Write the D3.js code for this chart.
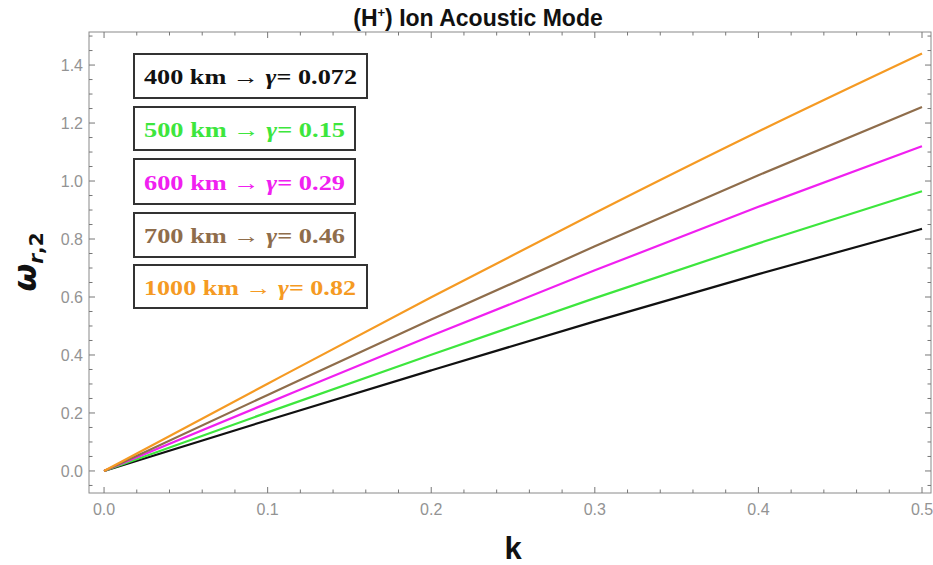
<!DOCTYPE html>
<html>
<head>
<meta charset="utf-8">
<script src="https://cdn.jsdelivr.net/npm/d3@7"></script>
<style>
  body { margin: 0; background: #fff; }
  svg { display: block; }
</style>
</head>
<body>
<div id="chart"></div>
<script>
// donnees
const kValues = [0, 0.1, 0.2, 0.3, 0.4, 0.5];
const omega400 = [0, 0.175, 0.347, 0.516, 0.679, 0.835];
const omega500 = [0, 0.202, 0.401, 0.596, 0.785, 0.965];
const omega600 = [0, 0.234, 0.466, 0.692, 0.911, 1.12];
const omega700 = [0, 0.262, 0.522, 0.775, 1.020, 1.255];
const omega1000 = [0, 0.301, 0.599, 0.890, 1.171, 1.44];

const altitudes = ['400', '500', '600', '700', '1000'];
const gammas = ['0.072', '0.15', '0.29', '0.46', '0.82'];
const colors = ['#111111', '#3de63d', '#f020f0', '#8f6d4b', '#f59a23'];

const xTicks = [0, 0.1, 0.2, 0.3, 0.4, 0.5];
const yTicks = [0, 0.2, 0.4, 0.6, 0.8, 1.0, 1.2, 1.4];

const seriesValues = [omega400, omega500, omega600, omega700, omega1000];

const W = 933, H = 565;
const frame = { left: 89, top: 32, right: 931, bottom: 493 };

const svg = d3.select('#chart').append('svg')
    .attr('width', W)
    .attr('height', H);

const x = d3.scaleLinear()
    .domain([-0.0092, 0.5055])
    .range([frame.left, frame.right]);

const y = d3.scaleLinear()
    .domain([-0.076, 1.514])
    .range([frame.bottom, frame.top]);

// Cadre
svg.append('rect')
    .attr('x', frame.left)
    .attr('y', frame.top)
    .attr('width', frame.right - frame.left)
    .attr('height', frame.bottom - frame.top)
    .attr('fill', 'none')
    .attr('stroke', '#8a8a8a')
    .attr('stroke-width', 1);

// Graduations (vers l'interieur, facon Mathematica)
const xMinor = d3.range(0, 0.501, 0.02).filter(v => Math.abs(v * 10 - Math.round(v * 10)) > 1e-6);
const yMinor = d3.range(-0.05, 1.51, 0.05).filter(v => Math.abs(v * 5 - Math.round(v * 5)) > 1e-6);

const ticks = svg.append('g').attr('stroke', '#777').attr('stroke-width', 1);
xTicks.forEach(v => {
    ticks.append('line').attr('x1', x(v)).attr('x2', x(v)).attr('y1', frame.bottom).attr('y2', frame.bottom - 6);
    ticks.append('line').attr('x1', x(v)).attr('x2', x(v)).attr('y1', frame.top).attr('y2', frame.top + 6);
});
xMinor.forEach(v => {
    ticks.append('line').attr('x1', x(v)).attr('x2', x(v)).attr('y1', frame.bottom).attr('y2', frame.bottom - 3.5);
    ticks.append('line').attr('x1', x(v)).attr('x2', x(v)).attr('y1', frame.top).attr('y2', frame.top + 3.5);
});
yTicks.forEach(v => {
    ticks.append('line').attr('x1', frame.left).attr('x2', frame.left + 6).attr('y1', y(v)).attr('y2', y(v));
    ticks.append('line').attr('x1', frame.right).attr('x2', frame.right - 6).attr('y1', y(v)).attr('y2', y(v));
});
yMinor.forEach(v => {
    ticks.append('line').attr('x1', frame.left).attr('x2', frame.left + 3.5).attr('y1', y(v)).attr('y2', y(v));
    ticks.append('line').attr('x1', frame.right).attr('x2', frame.right - 3.5).attr('y1', y(v)).attr('y2', y(v));
});

// Etiquettes des axes
svg.append('g').selectAll('text')
    .data(xTicks)
    .join('text')
    .attr('x', d => x(d))
    .attr('y', frame.bottom + 22)
    .attr('text-anchor', 'middle')
    .style('font-family', 'Liberation Sans, Arial, sans-serif')
    .style('font-size', '16px')
    .style('fill', '#939393')
    .text(d => d.toFixed(1));

svg.append('g').selectAll('text')
    .data(yTicks)
    .join('text')
    .attr('x', frame.left - 6)
    .attr('y', d => y(d) + 6)
    .attr('text-anchor', 'end')
    .style('font-family', 'Liberation Sans, Arial, sans-serif')
    .style('font-size', '16px')
    .style('fill', '#939393')
    .text(d => d.toFixed(1));

// Courbes
const line = d3.line()
    .x((d, i) => x(kValues[i]))
    .y(d => y(d))
    .curve(d3.curveMonotoneX);

svg.append('g').selectAll('path')
    .data(seriesValues)
    .join('path')
    .attr('d', d => line(d))
    .attr('fill', 'none')
    .attr('stroke', (d, i) => colors[i])
    .attr('stroke-width', 2.2);

// Titre
svg.append('text')
    .attr('x', 478)
    .attr('y', 26)
    .attr('text-anchor', 'middle')
    .style('font-family', 'Liberation Sans, Arial, sans-serif')
    .style('font-size', '23px')
    .style('font-weight', '700')
    .style('fill', '#111')
    .html('(H<tspan dy="-9" font-size="13px">+</tspan><tspan dy="9">) Ion Acoustic Mode</tspan>');

// Titre axe x
svg.append('text')
    .attr('x', 513)
    .attr('y', 559)
    .attr('text-anchor', 'middle')
    .style('font-family', 'Liberation Sans, Arial, sans-serif')
    .style('font-size', '31px')
    .style('font-weight', '700')
    .style('fill', '#111')
    .text('k');

// Titre axe y
svg.append('text')
    .attr('transform', 'translate(36, 262) rotate(-90)')
    .attr('text-anchor', 'middle')
    .style('font-family', 'DejaVu Sans, sans-serif')
    .style('font-weight', '700')
    .style('fill', '#111')
    .html('<tspan font-size="32px" font-style="italic">ω</tspan><tspan font-size="20px" dy="7" font-style="italic">r</tspan><tspan font-size="20px">,2</tspan>');

// Legende en boites
const boxes = [
    { y0: 54, y1: 98, x1: 367, len: 213 },
    { y0: 107, y1: 150, x1: 355, len: 201 },
    { y0: 159, y1: 204, x1: 355, len: 201 },
    { y0: 213, y1: 257, x1: 355, len: 201 },
    { y0: 265, y1: 308, x1: 367, len: 212 }
];

const legend = svg.append('g');
altitudes.forEach((alt, i) => {
    const b = boxes[i];
    legend.append('rect')
        .attr('x', 134)
        .attr('y', b.y0)
        .attr('width', b.x1 - 134)
        .attr('height', b.y1 - b.y0)
        .attr('fill', '#fff')
        .attr('stroke', '#333')
        .attr('stroke-width', 2);

    const t = legend.append('text')
        .attr('x', 144)
        .attr('y', (b.y0 + b.y1) / 2 + 8)
        .attr('textLength', b.len)
        .attr('lengthAdjust', 'spacingAndGlyphs')
        .style('font-family', 'Liberation Serif, Times New Roman, serif')
        .style('font-size', '22px')
        .style('font-weight', '700')
        .style('fill', colors[i]);
    t.append('tspan').text(`${alt} km → `);
    t.append('tspan').style('font-style', 'italic').text('γ');
    t.append('tspan').text(`= ${gammas[i]}`);
});
</script>
</body>
</html>
